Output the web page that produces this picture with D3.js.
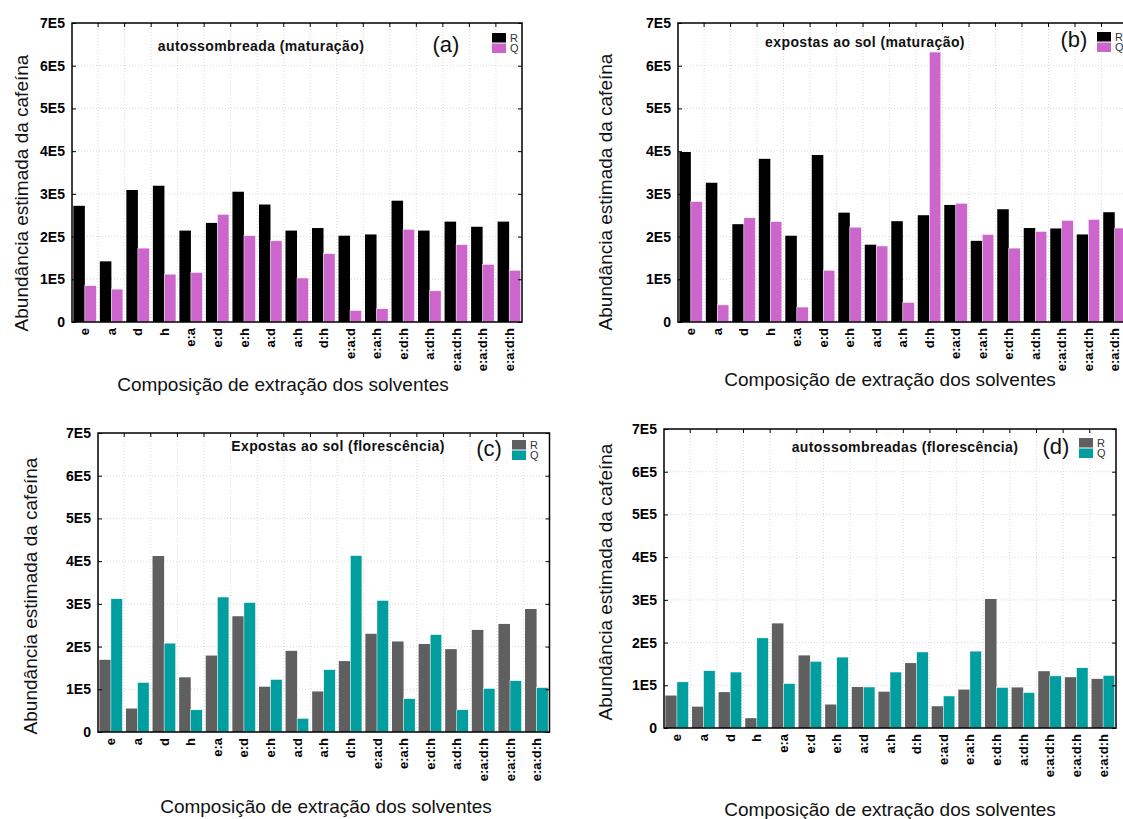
<!DOCTYPE html>
<html>
<head>
<meta charset="utf-8">
<script src="https://cdn.jsdelivr.net/npm/d3@7"></script>
<style>
body { margin: 0; background: #fff; }
text { font-family: "Liberation Sans", Arial, sans-serif; }
</style>
</head>
<body>
<svg width="1123" height="819"></svg>
<script>
// solvent combinations (last three repeat in the original figure)
var categories = ["e", "a", "d", "h", "e:a", "e:d", "e:h", "a:d", "a:h", "d:h",
    "e:a:d", "e:a:h", "e:d:h", "a:d:h", "e:a:d:h", "e:a:d:h", "e:a:d:h"];
var yTicks = [0, 1e5, 2e5, 3e5, 4e5, 5e5, 6e5, 7e5];
var seriesNames = ["R", "Q"];

// (a) autossombreada (maturacao)
var aR = [272000, 142000, 309000, 319000, 214000, 232000, 305000, 275000, 214000, 220000, 202000, 205000, 284000, 214000, 235000, 223000, 235000];
var aQ = [85000, 77000, 173000, 112000, 116000, 252000, 202000, 190000, 103000, 160000, 27000, 31000, 217000, 73000, 181000, 135000, 121000];
// (b) expostas ao sol (maturacao)
var bR = [398000, 326000, 229000, 382000, 202000, 391000, 256000, 181000, 236000, 250000, 274000, 190000, 264000, 220000, 219000, 205000, 257000];
var bQ = [282000, 40000, 244000, 235000, 35000, 121000, 222000, 178000, 46000, 632000, 278000, 205000, 173000, 212000, 238000, 240000, 220000];
// (c) Expostas ao sol (florescencia)
var cR = [169000, 55000, 412000, 128000, 179000, 271000, 106000, 190000, 95000, 166000, 230000, 212000, 206000, 194000, 239000, 253000, 288000];
var cQ = [312000, 116000, 208000, 52000, 316000, 303000, 123000, 32000, 146000, 413000, 308000, 78000, 228000, 52000, 102000, 120000, 104000];
// (d) autossombreadas (florescencia)
var dR = [76000, 50000, 84000, 23000, 245000, 170000, 55000, 96000, 85000, 152000, 51000, 90000, 302000, 95000, 133000, 119000, 115000];
var dQ = [108000, 134000, 131000, 211000, 104000, 156000, 166000, 96000, 131000, 178000, 75000, 180000, 95000, 83000, 122000, 141000, 123000];

var yTitle = "Abundância estimada da cafeína";
var xTitle = "Composição de extração dos solventes";

var svg = d3.select("svg");

var panels = [
    {R: aR, Q: aQ, colors: ["#000000", "#cc66cc"], title: "autossombreada (maturação)", tag: "(a)",
     left: 72, right: 522, top: 23, bottom: 322,
     yt: [21, 193], xt: [283, 384], tt: [261, 46], tg: [446, 44], lg: [492, 33]},
    {R: bR, Q: bQ, colors: ["#000000", "#cc66cc"], title: "expostas ao sol (maturação)", tag: "(b)",
     left: 678, right: 1127.6, top: 23, bottom: 322,
     yt: [605, 192], xt: [890, 379], tt: [865, 42], tg: [1074, 39], lg: [1097, 32]},
    {R: cR, Q: cQ, colors: ["#5f5f5f", "#009e9e"], title: "Expostas ao sol (florescência)", tag: "(c)",
     left: 98, right: 549.5, top: 433, bottom: 732,
     yt: [30, 596], xt: [326, 806], tt: [338, 446], tg: [489, 448], lg: [512, 440]},
    {R: dR, Q: dQ, colors: ["#5f5f5f", "#009e9e"], title: "autossombreadas (florescência)", tag: "(d)",
     left: 664, right: 1116, top: 429, bottom: 728,
     yt: [605, 582], xt: [890, 809], tt: [905, 447], tg: [1056, 446], lg: [1079, 438]}
];

panels.forEach(function (p) {
    var g = svg.append("g");

    var x = d3.scaleBand() //one band per solvent combination
        .domain(d3.range(categories.length))
        .range([p.left, p.right])
        .paddingInner(0.13)
        .paddingOuter(0.05);

    var xSub = d3.scaleBand()
        .domain(seriesNames)
        .range([0, x.bandwidth()]);

    var y = d3.scaleLinear()
        .domain([0, 7e5])
        .range([p.bottom, p.top]);

    var color = d3.scaleOrdinal().domain(seriesNames).range(p.colors);

    // band boundaries for vertical grid and top ticks
    var bounds = d3.range(1, categories.length).map(function (i) {
        return x(i) - x.step() * x.paddingInner() / 2;
    });

    // dotted grid
    g.append("g").selectAll("line.h")
        .data(yTicks.slice(1, -1))
        .enter().append("line")
        .attr("x1", p.left).attr("x2", p.right)
        .attr("y1", function (d) { return y(d); })
        .attr("y2", function (d) { return y(d); })
        .attr("stroke", "#cfcfcf").attr("stroke-width", 0.8)
        .attr("stroke-dasharray", "1,2");

    g.append("g").selectAll("line.v")
        .data(bounds)
        .enter().append("line")
        .attr("x1", function (d) { return d; }).attr("x2", function (d) { return d; })
        .attr("y1", p.top).attr("y2", p.bottom)
        .attr("stroke", "#cfcfcf").attr("stroke-width", 0.8)
        .attr("stroke-dasharray", "1,2");

    // bars
    var rows = categories.map(function (c, i) {
        return {i: i, vals: [{k: "R", v: p.R[i]}, {k: "Q", v: p.Q[i]}]};
    });

    g.append("g").selectAll("g")
        .data(rows)
        .enter().append("g")
        .attr("transform", function (d) { return "translate(" + x(d.i) + ",0)"; })
        .selectAll("rect")
        .data(function (d) { return d.vals; })
        .enter().append("rect")
        .attr("x", function (d) { return xSub(d.k); })
        .attr("width", xSub.bandwidth())
        .attr("y", function (d) { return y(d.v); })
        .attr("height", function (d) { return p.bottom - y(d.v); })
        .attr("fill", function (d) { return color(d.k); })
        .attr("stroke", function (d) { return d.k == "Q" ? "#ffffff" : "none"; })
        .attr("stroke-width", 0.5);

    // frame
    g.append("rect")
        .attr("x", p.left).attr("y", p.top)
        .attr("width", p.right - p.left).attr("height", p.bottom - p.top)
        .attr("fill", "none").attr("stroke", "#000").attr("stroke-width", 1.5);

    // top ticks pointing in
    g.append("g").selectAll("line")
        .data(bounds)
        .enter().append("line")
        .attr("x1", function (d) { return d; }).attr("x2", function (d) { return d; })
        .attr("y1", p.top).attr("y2", p.top + 4)
        .attr("stroke", "#000").attr("stroke-width", 1);

    // y axis left
    var gy = g.append("g")
        .attr("transform", "translate(" + p.left + ",0)")
        .call(d3.axisLeft(y).tickValues(yTicks).tickSize(-4).tickPadding(7)
            .tickFormat(function (d) { return d === 0 ? "0" : (d / 1e5) + "E5"; }));
    gy.select(".domain").remove();
    gy.selectAll("text")
        .attr("font-size", 14).attr("font-weight", "bold")
        .attr("font-family", "Liberation Sans, Arial, sans-serif").attr("fill", "#000");

    // y ticks on the right side
    var gr = g.append("g")
        .attr("transform", "translate(" + p.right + ",0)")
        .call(d3.axisRight(y).tickValues(yTicks).tickSize(-4).tickFormat(""));
    gr.select(".domain").remove();

    // x axis labels
    var gx = g.append("g")
        .attr("transform", "translate(0," + p.bottom + ")")
        .call(d3.axisBottom(x).tickSize(0).tickFormat(function (i) { return categories[i]; }));
    gx.select(".domain").remove();
    gx.selectAll("text")
        .attr("transform", "rotate(-90)")
        .attr("text-anchor", "end")
        .attr("x", -6).attr("y", 0).attr("dy", "0.35em")
        .attr("font-size", 13).attr("font-weight", "bold")
        .attr("font-family", "Liberation Sans, Arial, sans-serif").attr("fill", "#000");

    // axis titles
    g.append("text")
        .attr("transform", "translate(" + p.yt[0] + "," + p.yt[1] + ") rotate(-90)")
        .attr("text-anchor", "middle").attr("dy", "0.35em")
        .attr("font-size", 19).attr("fill", "#111")
        .text(yTitle);

    g.append("text")
        .attr("x", p.xt[0]).attr("y", p.xt[1])
        .attr("text-anchor", "middle").attr("dy", "0.35em")
        .attr("font-size", 19).attr("fill", "#111")
        .text(xTitle);

    // panel title and tag
    g.append("text")
        .attr("x", p.tt[0]).attr("y", p.tt[1])
        .attr("text-anchor", "middle").attr("dy", "0.35em")
        .attr("font-size", 14).attr("font-weight", "bold")
        .attr("letter-spacing", 0.4).attr("fill", "#111")
        .text(p.title);

    g.append("text")
        .attr("x", p.tg[0]).attr("y", p.tg[1])
        .attr("text-anchor", "middle").attr("dy", "0.35em")
        .attr("font-size", 22).attr("fill", "#111")
        .text(p.tag);

    // legend
    var lg = g.append("g").attr("transform", "translate(" + p.lg[0] + "," + p.lg[1] + ")");
    seriesNames.forEach(function (s, k) {
        lg.append("rect")
            .attr("x", 0).attr("y", k * 10.5)
            .attr("width", 14).attr("height", 9.5)
            .attr("fill", color(s));
        lg.append("text")
            .attr("x", 18).attr("y", k * 10.5 + 5)
            .attr("dy", "0.35em")
            .attr("font-size", 11).attr("fill", "#333")
            .text(s);
    });
});
</script>
</body>
</html>
